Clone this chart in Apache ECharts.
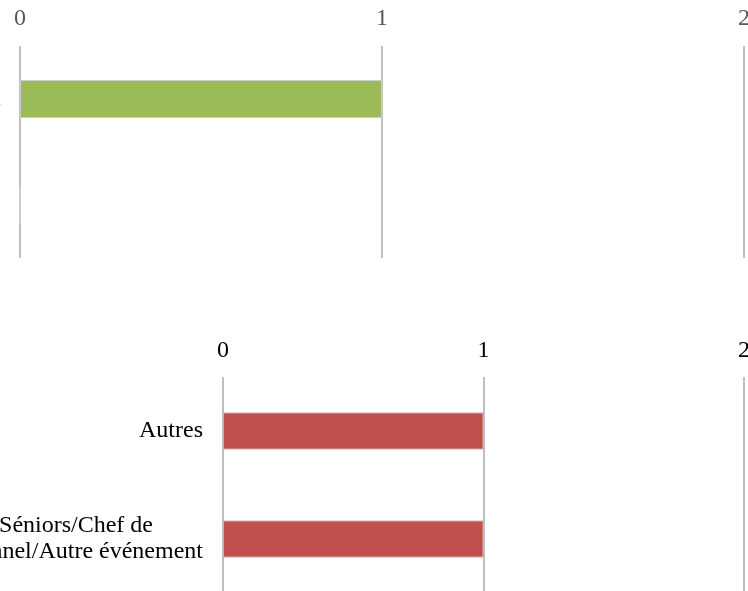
<!DOCTYPE html>
<html>
<head>
<meta charset="utf-8">
<script src="https://cdn.jsdelivr.net/npm/echarts@6/dist/echarts.min.js"></script>
<style>
html,body{margin:0;padding:0;background:#fff;}
#chart{width:748px;height:591px;}
</style>
</head>
<body>
<div id="chart"></div>
<script>
// Top chart
const topCategories = ['Oui', ''];
const topValues = [1, 0];
// Bottom chart
const bottomCategories = ['Autres', 'Séniors/Chef de\npersonnel/Autre événement'];
const bottomValues = [1, 1];
// Value axis ticks
const axisMin = 0;
const axisMax = 2;
const axisInterval = 1;

const FONT = '"Liberation Serif", "Times New Roman", serif';
const FS = 24;
const gridLine = { show: true, lineStyle: { color: '#bfbfbf', width: 2 } };

const chart = echarts.init(document.getElementById('chart'), null, { renderer: 'canvas' });

chart.setOption({
  animation: false,
  backgroundColor: '#ffffff',
  grid: [
    { left: 20, right: 4, top: 46, height: 212, containLabel: false, outerBoundsMode: 'none' },
    { left: 223, right: 4, top: 377, bottom: -2, containLabel: false, outerBoundsMode: 'none' }
  ],
  xAxis: [
    {
      gridIndex: 0, type: 'value', position: 'top',
      min: axisMin, max: axisMax, interval: axisInterval,
      axisLine: { show: false }, axisTick: { show: false },
      axisLabel: { color: '#595959', fontFamily: FONT, fontSize: FS, margin: 15, hideOverlap: false },
      splitLine: gridLine
    },
    {
      gridIndex: 1, type: 'value', position: 'top',
      min: axisMin, max: axisMax, interval: axisInterval,
      axisLine: { show: false }, axisTick: { show: false },
      axisLabel: { color: '#000000', fontFamily: FONT, fontSize: FS, margin: 14, hideOverlap: false },
      splitLine: gridLine
    }
  ],
  yAxis: [
    {
      gridIndex: 0, type: 'category', inverse: true, data: topCategories,
      axisLine: { show: false }, axisTick: { show: false },
      axisLabel: { color: '#595959', fontFamily: FONT, fontSize: FS, margin: 19 }
    },
    {
      gridIndex: 1, type: 'category', inverse: true, data: bottomCategories,
      axisLine: { show: false }, axisTick: { show: false },
      axisLabel: {
        color: '#000000', fontFamily: FONT, fontSize: FS, margin: 20, lineHeight: 26,
        formatter: function (v) {
          const lines = v.split('\n');
          if (lines.length === 1) return v;
          return '{t|' + lines[0] + '}{g| }\n{t|' + lines[1] + '}';
        },
        rich: {
          t: { fontFamily: FONT, fontSize: FS, color: '#000000', lineHeight: 26 },
          g: { width: 50, fontSize: FS, lineHeight: 26 }
        }
      }
    }
  ],
  series: [
    {
      type: 'bar', xAxisIndex: 0, yAxisIndex: 0, data: topValues, barWidth: 38,
      itemStyle: { color: '#9BBB59', borderColor: '#cfcfcf', borderWidth: 1 },
      z: 1
    },
    {
      type: 'bar', xAxisIndex: 1, yAxisIndex: 1, data: bottomValues, barWidth: 37,
      itemStyle: { color: '#C0504D', borderColor: '#d4a9a8', borderWidth: 1 },
      z: 1
    }
  ]
});
</script>
</body>
</html>
